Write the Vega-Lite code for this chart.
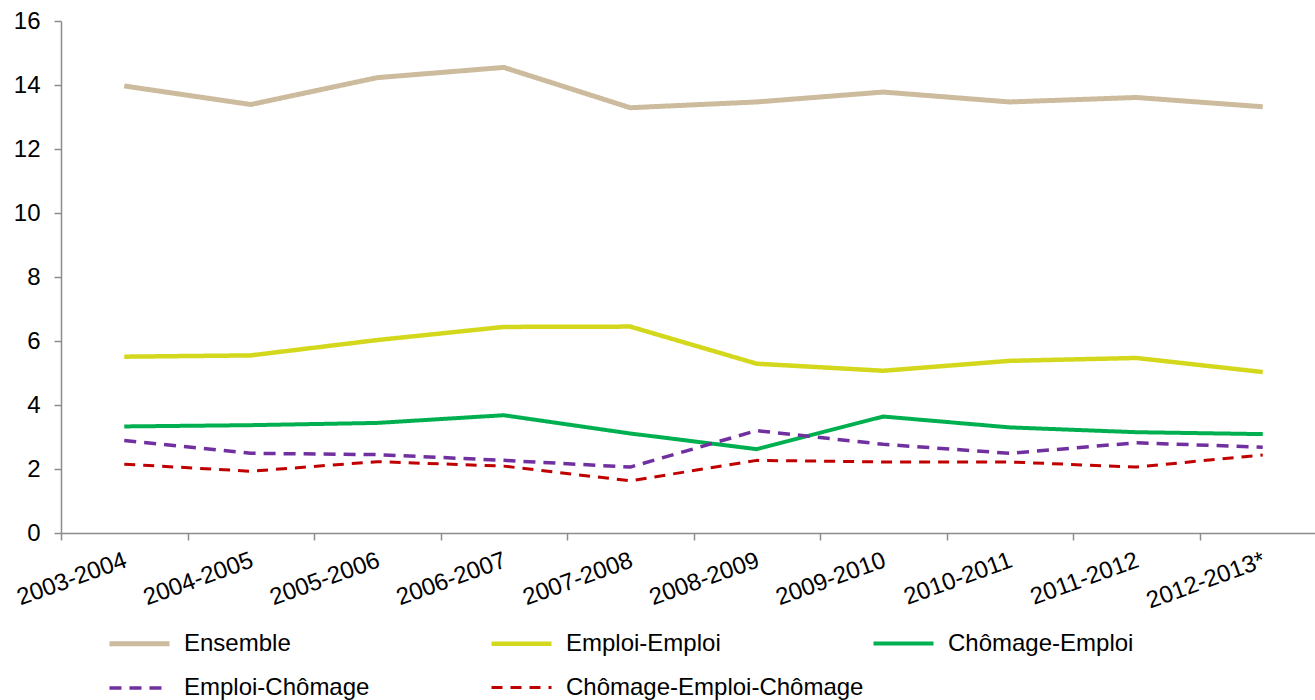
{
  "$schema": "https://vega.github.io/schema/vega-lite/v6.json",
  "autosize": {"type": "none"},
  "padding": {"left": 61, "top": 21, "right": 0, "bottom": 167},
  "width": 1254,
  "height": 512,
  "background": "white",
  "config": {
    "font": "Liberation Sans",
    "view": {"stroke": null},
    "axis": {"grid": false, "labelFont": "Liberation Sans", "labelColor": "black", "labelFontSize": 24, "domainColor": "#8c8c8c", "tickColor": "#8c8c8c", "domainWidth": 1.5, "tickWidth": 1.5, "title": null}
  },
  "data": {"values": [
    {"year": "2003-2004", "series": "Ensemble", "v": 13.97},
    {"year": "2004-2005", "series": "Ensemble", "v": 13.39},
    {"year": "2005-2006", "series": "Ensemble", "v": 14.23},
    {"year": "2006-2007", "series": "Ensemble", "v": 14.55},
    {"year": "2007-2008", "series": "Ensemble", "v": 13.29},
    {"year": "2008-2009", "series": "Ensemble", "v": 13.47},
    {"year": "2009-2010", "series": "Ensemble", "v": 13.78},
    {"year": "2010-2011", "series": "Ensemble", "v": 13.47},
    {"year": "2011-2012", "series": "Ensemble", "v": 13.61},
    {"year": "2012-2013*", "series": "Ensemble", "v": 13.32},
    {"year": "2003-2004", "series": "Emploi-Emploi", "v": 5.51},
    {"year": "2004-2005", "series": "Emploi-Emploi", "v": 5.55},
    {"year": "2005-2006", "series": "Emploi-Emploi", "v": 6.03},
    {"year": "2006-2007", "series": "Emploi-Emploi", "v": 6.44},
    {"year": "2007-2008", "series": "Emploi-Emploi", "v": 6.45},
    {"year": "2008-2009", "series": "Emploi-Emploi", "v": 5.29},
    {"year": "2009-2010", "series": "Emploi-Emploi", "v": 5.07},
    {"year": "2010-2011", "series": "Emploi-Emploi", "v": 5.38},
    {"year": "2011-2012", "series": "Emploi-Emploi", "v": 5.47},
    {"year": "2012-2013*", "series": "Emploi-Emploi", "v": 5.03},
    {"year": "2003-2004", "series": "Chômage-Emploi", "v": 3.33},
    {"year": "2004-2005", "series": "Chômage-Emploi", "v": 3.37},
    {"year": "2005-2006", "series": "Chômage-Emploi", "v": 3.44},
    {"year": "2006-2007", "series": "Chômage-Emploi", "v": 3.68},
    {"year": "2007-2008", "series": "Chômage-Emploi", "v": 3.11},
    {"year": "2008-2009", "series": "Chômage-Emploi", "v": 2.62},
    {"year": "2009-2010", "series": "Chômage-Emploi", "v": 3.64},
    {"year": "2010-2011", "series": "Chômage-Emploi", "v": 3.3},
    {"year": "2011-2012", "series": "Chômage-Emploi", "v": 3.15},
    {"year": "2012-2013*", "series": "Chômage-Emploi", "v": 3.09},
    {"year": "2003-2004", "series": "Emploi-Chômage", "v": 2.89},
    {"year": "2004-2005", "series": "Emploi-Chômage", "v": 2.49},
    {"year": "2005-2006", "series": "Emploi-Chômage", "v": 2.45},
    {"year": "2006-2007", "series": "Emploi-Chômage", "v": 2.27},
    {"year": "2007-2008", "series": "Emploi-Chômage", "v": 2.06},
    {"year": "2008-2009", "series": "Emploi-Chômage", "v": 3.2},
    {"year": "2009-2010", "series": "Emploi-Chômage", "v": 2.77},
    {"year": "2010-2011", "series": "Emploi-Chômage", "v": 2.49},
    {"year": "2011-2012", "series": "Emploi-Chômage", "v": 2.82},
    {"year": "2012-2013*", "series": "Emploi-Chômage", "v": 2.68},
    {"year": "2003-2004", "series": "Chômage-Emploi-Chômage", "v": 2.15},
    {"year": "2004-2005", "series": "Chômage-Emploi-Chômage", "v": 1.93},
    {"year": "2005-2006", "series": "Chômage-Emploi-Chômage", "v": 2.23},
    {"year": "2006-2007", "series": "Chômage-Emploi-Chômage", "v": 2.09},
    {"year": "2007-2008", "series": "Chômage-Emploi-Chômage", "v": 1.63},
    {"year": "2008-2009", "series": "Chômage-Emploi-Chômage", "v": 2.27},
    {"year": "2009-2010", "series": "Chômage-Emploi-Chômage", "v": 2.22},
    {"year": "2010-2011", "series": "Chômage-Emploi-Chômage", "v": 2.22},
    {"year": "2011-2012", "series": "Chômage-Emploi-Chômage", "v": 2.06},
    {"year": "2012-2013*", "series": "Chômage-Emploi-Chômage", "v": 2.44}
  ]},
  "mark": {"type": "line", "strokeCap": "butt", "strokeJoin": "round"},
  "encoding": {
    "x": {
      "field": "year", "type": "ordinal", "bandPosition": 0.5,
      "scale": {"type": "band", "paddingInner": 0, "paddingOuter": 0, "range": [0, 1265]},
      "axis": {"tickBand": "extent", "labelAngle": -20, "labelAlign": "right", "labelBaseline": "top", "tickSize": 7, "labelPadding": 8, "labelOffset": -3, "offset": 0}
    },
    "y": {
      "field": "v", "type": "quantitative",
      "scale": {"domain": [0, 16], "nice": false},
      "axis": {"values": [0, 2, 4, 6, 8, 10, 12, 14, 16], "tickSize": 7, "labelPadding": 14}
    },
    "color": {
      "field": "series", "type": "nominal",
      "scale": {
        "domain": ["Ensemble", "Emploi-Emploi", "Chômage-Emploi", "Emploi-Chômage", "Chômage-Emploi-Chômage"],
        "range": ["#ccbb9c", "#d4d81c", "#00b050", "#7030a0", "#c00000"]
      },
      "legend": {
        "title": null, "orient": "none", "legendX": 46, "legendY": 590,
        "direction": "horizontal", "columns": 3, "gridAlign": "all",
        "symbolType": "stroke", "symbolSize": 3600, "labelOffset": 12,
        "labelFontSize": 24, "labelColor": "black", "columnPadding": 0, "rowPadding": -45, "labelLimit": 400
      }
    },
    "strokeDash": {
      "field": "series", "type": "nominal",
      "scale": {
        "domain": ["Ensemble", "Emploi-Emploi", "Chômage-Emploi", "Emploi-Chômage", "Chômage-Emploi-Chômage"],
        "range": [[1, 0], [1, 0], [1, 0], [12, 8], [11, 8]]
      },
      "legend": null
    },
    "strokeWidth": {
      "field": "series", "type": "nominal",
      "scale": {
        "domain": ["Ensemble", "Emploi-Emploi", "Chômage-Emploi", "Emploi-Chômage", "Chômage-Emploi-Chômage"],
        "range": [5, 3, 3, 3, 3]
      },
      "legend": null
    }
  }
}
